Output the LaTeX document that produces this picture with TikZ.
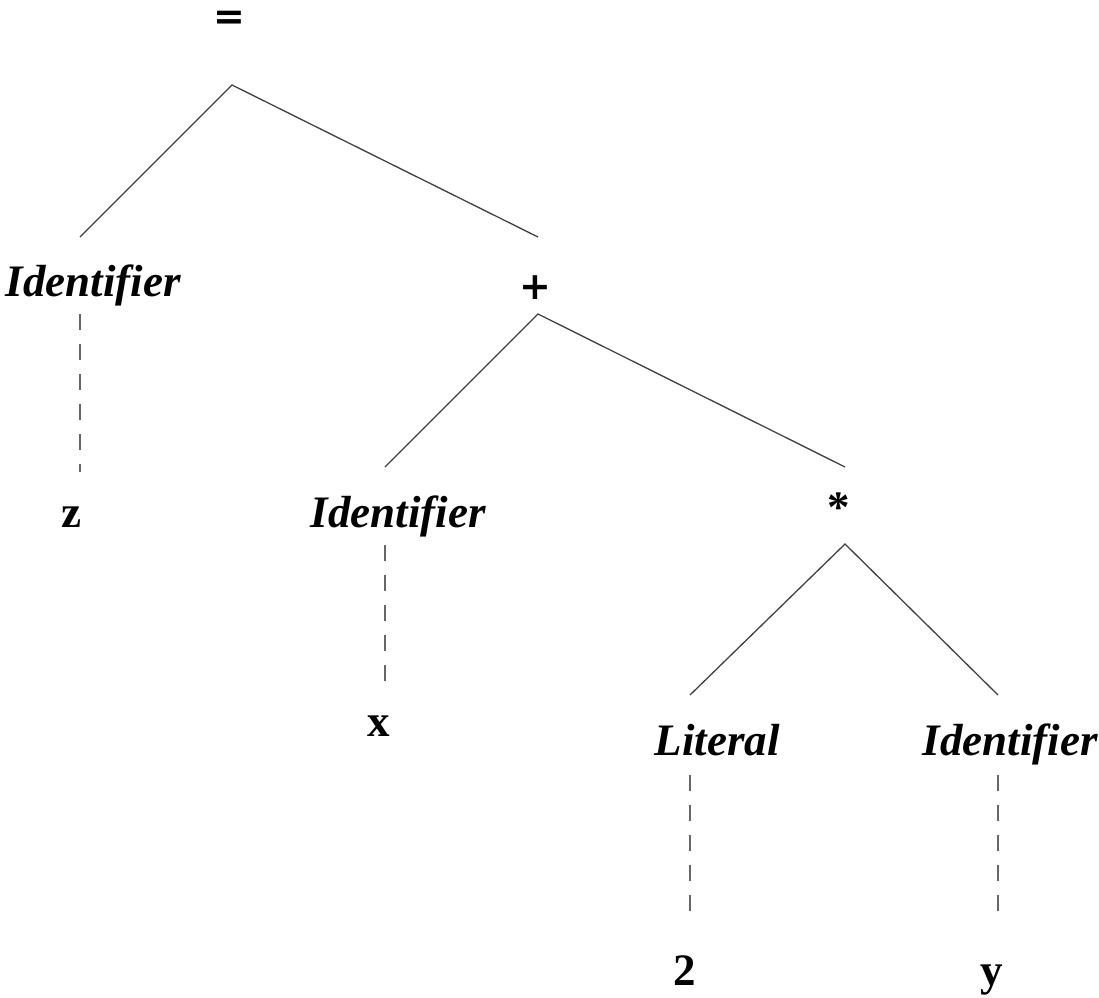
\documentclass[tikz,border=0pt]{standalone}
\usepackage{fontspec}
\setmainfont{Liberation Serif}
\newfontfamily\opfont{DejaVu Sans}
\begin{document}
\begin{tikzpicture}[x=1pt,y=-1pt,
  lab/.style={font=\fontsize{45}{54}\selectfont\bfseries\itshape, inner sep=0pt, anchor=base},
  leaf/.style={font=\fontsize{45}{54}\selectfont\bfseries, inner sep=0pt, anchor=base},
  op/.style={font=\fontsize{38}{46}\selectfont\opfont\bfseries, inner sep=0pt, anchor=base, text height=22pt, text depth=0pt},
  star/.style={font=\fontsize{45}{54}\selectfont\bfseries, inner sep=0pt, anchor=base},
  edge/.style={draw=black!75, line width=1.3pt},
  link/.style={draw=black!60, line width=1.5pt, dash pattern=on 16pt off 14pt}]
\useasboundingbox (0,0) rectangle (1099,997);
% nodes
\node[op] (eq) at (229,29) {=};
\node[lab] (id1) at (93,296) {Identifier};
\node[leaf] (z) at (71,527) {z};
\node[op] (plus) at (535,299) {+};
\node[lab] (id2) at (398,527) {Identifier};
\node[leaf] (x) at (379,736) {x};
\node[star] (mul) at (839,522) {*};
\node[lab] (lit) at (717,755) {Literal};
\node[lab] (id3) at (1010,755) {Identifier};
\node[leaf] (two) at (685,985) {2};
\node[leaf] (y) at (992,985) {y};
% connector end points
\coordinate (eqB) at (232,85);
\coordinate (id1T) at (80,237);
\coordinate (plusT) at (538,237);
\coordinate (plusB) at (538,314);
\coordinate (id2T) at (385,467);
\coordinate (mulT) at (845,467);
\coordinate (mulB) at (845,544);
\coordinate (litT) at (690,695);
\coordinate (id3T) at (998,695);
\coordinate (id1B) at (80,314);
\coordinate (zT) at (80,472);
\coordinate (id2B) at (385,545);
\coordinate (xT) at (385,690);
\coordinate (litB) at (690,775);
\coordinate (twoT) at (690,915);
\coordinate (id3B) at (998,775);
\coordinate (yT) at (998,915);
% solid edges
\draw[edge] (id1T) -- (eqB) -- (plusT);
\draw[edge] (id2T) -- (plusB) -- (mulT);
\draw[edge] (litT) -- (mulB) -- (id3T);
% dashed links
\draw[link] (id1B) -- (zT);
\draw[link] (id2B) -- (xT);
\draw[link] (litB) -- (twoT);
\draw[link] (id3B) -- (yT);
\end{tikzpicture}
\end{document}
